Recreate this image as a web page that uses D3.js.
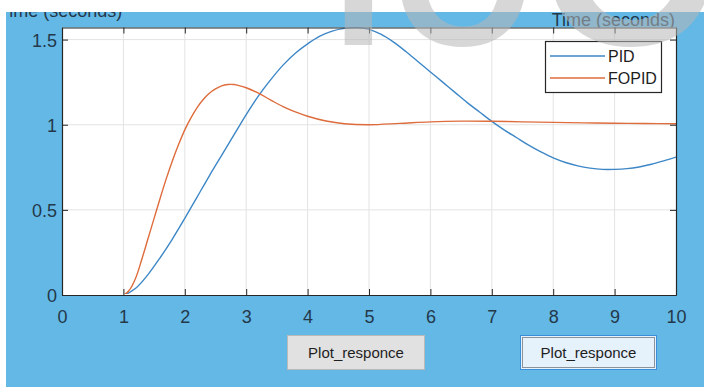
<!DOCTYPE html>
<html>
<head>
<meta charset="utf-8">
<script src="https://cdn.jsdelivr.net/npm/d3@7"></script>
<style>
  html, body { margin: 0; padding: 0; background: #fff; }
  svg { display: block; font-family: "Liberation Sans", Arial, sans-serif; }
</style>
</head>
<body>
<svg id="chart" width="704" height="387"></svg>
<script>
// ---- data ----
const xTicks = [0, 1, 2, 3, 4, 5, 6, 7, 8, 9, 10];
const yTicks = [0, 0.5, 1, 1.5];
const yTickLabels = ["0", "0.5", "1", "1.5"];
const seriesNames = ["PID", "FOPID"];
const axisLabel = "Time (seconds)";
const buttonLabels = ["Plot_responce", "Plot_responce"];
const watermarkLetters = ["I", "O", "C"];

const pidTime = [0, 1, 1.2, 1.4, 1.6, 1.8, 2.0, 2.2, 2.4, 2.6, 2.8, 3.0, 3.2, 3.4, 3.6, 3.8, 4.0, 4.2, 4.4, 4.6, 4.8, 5.0, 5.2, 5.4, 5.6, 5.8, 6.0, 6.2, 6.4, 6.6, 6.8, 7.0, 7.2, 7.4, 7.6, 7.8, 8.0, 8.2, 8.4, 8.6, 8.8, 9.0, 9.2, 9.4, 9.6, 9.8, 10];
const pidValues = [0, 0, 0.04, 0.12, 0.22, 0.33, 0.45, 0.575, 0.70, 0.82, 0.94, 1.06, 1.17, 1.265, 1.35, 1.42, 1.475, 1.52, 1.55, 1.566, 1.57, 1.56, 1.53, 1.485, 1.43, 1.37, 1.31, 1.25, 1.19, 1.13, 1.075, 1.02, 0.97, 0.925, 0.88, 0.84, 0.805, 0.778, 0.758, 0.745, 0.738, 0.738, 0.742, 0.752, 0.768, 0.788, 0.81];

const fopidTime = [0, 1, 1.1, 1.2, 1.3, 1.4, 1.5, 1.6, 1.7, 1.8, 1.9, 2.0, 2.1, 2.2, 2.3, 2.4, 2.5, 2.6, 2.7, 2.8, 2.9, 3.0, 3.2, 3.4, 3.6, 3.8, 4.0, 4.3, 4.6, 5.0, 5.5, 6.0, 6.5, 7.0, 7.5, 8.0, 8.5, 9.0, 9.5, 10];
const fopidValues = [0, 0, 0.03, 0.1, 0.21, 0.33, 0.45, 0.57, 0.685, 0.79, 0.885, 0.97, 1.04, 1.10, 1.148, 1.185, 1.21, 1.228, 1.236, 1.236, 1.228, 1.217, 1.185, 1.145, 1.106, 1.075, 1.05, 1.022, 1.006, 1.0, 1.008, 1.017, 1.021, 1.02, 1.017, 1.014, 1.011, 1.009, 1.007, 1.006];

// ---- styles ----
const BG_BLUE = "#63b8e6";
const AXIS = "#262626";
const TEXT = "#24384a";
const GRID = "#e3e3e3";
const COLORS = ["#3d87c7", "#de6c3c"];

const svg = d3.select("#chart");
const W = 704, H = 387;

svg.append("rect").attr("x", 0).attr("y", 0).attr("width", W).attr("height", H).attr("fill", "#fff");
svg.append("rect").attr("x", 6).attr("y", 12).attr("width", W - 6).attr("height", H - 12).attr("fill", BG_BLUE);

const defs = svg.append("defs");
defs.append("clipPath").attr("id", "bgclip")
  .append("rect").attr("x", 6).attr("y", 12).attr("width", W - 6).attr("height", H - 12);

// partially hidden label of an upper axes
svg.append("text").attr("clip-path", "url(#bgclip)")
  .attr("x", -1).attr("y", 16.5).attr("font-size", 18).attr("fill", TEXT)
  .text(axisLabel);

const plot = { left: 62, right: 676, top: 27.5, bottom: 295 };
const x = d3.scaleLinear().domain([0, 10]).range([plot.left, plot.right]);
const y = d3.scaleLinear().domain([0, 1.571]).range([plot.bottom, plot.top]);

// top-right axis label
svg.append("text").attr("x", plot.right - 1).attr("y", 26).attr("text-anchor", "end")
  .attr("font-size", 18).attr("fill", TEXT).text(axisLabel);

// plot area
svg.append("rect").attr("x", plot.left).attr("y", plot.top)
  .attr("width", plot.right - plot.left).attr("height", plot.bottom - plot.top).attr("fill", "#fff");

// grid
const g = svg.append("g");
g.selectAll("line.gx").data(xTicks.slice(1, -1)).enter().append("line")
  .attr("x1", d => x(d)).attr("x2", d => x(d)).attr("y1", plot.top).attr("y2", plot.bottom)
  .attr("stroke", GRID).attr("stroke-width", 1);
g.selectAll("line.gy").data(yTicks.slice(1)).enter().append("line")
  .attr("y1", d => y(d)).attr("y2", d => y(d)).attr("x1", plot.left).attr("x2", plot.right)
  .attr("stroke", GRID).attr("stroke-width", 1);

// lines
const clip = defs.append("clipPath").attr("id", "plotclip");
clip.append("rect").attr("x", plot.left).attr("y", plot.top - 2)
  .attr("width", plot.right - plot.left).attr("height", plot.bottom - plot.top + 1);

const line = d3.line().x(d => x(d[0])).y(d => y(d[1])).curve(d3.curveCatmullRom.alpha(0.5));
const series = [
  d3.zip(pidTime, pidValues),
  d3.zip(fopidTime, fopidValues)
];
series.forEach((s, i) => {
  svg.append("path").datum(s).attr("clip-path", "url(#plotclip)")
    .attr("d", line).attr("fill", "none").attr("stroke", COLORS[i]).attr("stroke-width", 1.4);
});

// axes (MATLAB-style, ticks inward, box)
const tickLen = 6;
const axB = svg.append("g").attr("transform", `translate(0,${plot.bottom})`)
  .call(d3.axisBottom(x).tickValues(xTicks).tickSizeInner(-tickLen).tickSizeOuter(0).tickPadding(15).tickFormat(d3.format("d")));
const axT = svg.append("g").attr("transform", `translate(0,${plot.top})`)
  .call(d3.axisTop(x).tickValues(xTicks).tickSizeInner(-tickLen).tickSizeOuter(0).tickFormat(""));
const axL = svg.append("g").attr("transform", `translate(${plot.left},0)`)
  .call(d3.axisLeft(y).tickValues(yTicks).tickSizeInner(-tickLen).tickSizeOuter(0).tickPadding(5).tickFormat((d, i) => yTickLabels[i]));
const axR = svg.append("g").attr("transform", `translate(${plot.right},0)`)
  .call(d3.axisRight(y).tickValues(yTicks).tickSizeInner(-tickLen).tickSizeOuter(0).tickFormat(""));
[axB, axT, axL, axR].forEach(a => {
  a.select(".domain").attr("stroke", AXIS).attr("stroke-width", 1.2);
  a.selectAll(".tick line").attr("stroke", AXIS).attr("stroke-width", 1);
  a.selectAll("text").attr("font-size", 18).attr("fill", TEXT)
    .attr("font-family", "Liberation Sans, Arial, sans-serif");
});
axL.selectAll(".tick text").attr("dy", "0.36em");

// legend
const lg = svg.append("g");
lg.append("rect").attr("x", 545.5).attr("y", 41.5).attr("width", 116).attr("height", 51)
  .attr("fill", "#fff").attr("stroke", AXIS).attr("stroke-width", 1.2);
seriesNames.forEach((name, i) => {
  const ly = 56 + i * 22;
  lg.append("line").attr("x1", 550).attr("x2", 605).attr("y1", ly).attr("y2", ly)
    .attr("stroke", COLORS[i]).attr("stroke-width", 1.4);
  lg.append("text").attr("x", 608).attr("y", ly + 6).attr("font-size", 16).attr("fill", "#1e1e1e").text(name);
});

// buttons
const btns = [
  { x: 287, y: 335, w: 137, h: 34, fill: "#e1e1e1", stroke: "#b9b9b9", focus: false },
  { x: 520, y: 335, w: 136, h: 34, fill: "#e5f1fb", stroke: "#3a8fd9", focus: true }
];
btns.forEach((b, i) => {
  svg.append("rect").attr("x", b.x + 0.5).attr("y", b.y + 0.5).attr("width", b.w).attr("height", b.h)
    .attr("fill", b.fill).attr("stroke", b.stroke).attr("stroke-width", 1);
  if (b.focus) {
    svg.append("rect").attr("x", b.x + 2.5).attr("y", b.y + 2.5).attr("width", b.w - 4).attr("height", b.h - 4)
      .attr("fill", "none").attr("stroke", "#333").attr("stroke-width", 1).attr("stroke-dasharray", "1,1");
  }
  svg.append("text").attr("x", b.x + b.w / 2 + 0.5).attr("y", b.y + 23).attr("text-anchor", "middle")
    .attr("font-size", 15).attr("fill", "#1e1e1e").text(buttonLabels[i]);
});

// watermark
const wm = svg.append("g").attr("fill", "rgb(182,182,182)").attr("fill-opacity", 0.55)
  .attr("font-weight", "bold").attr("font-family", "Liberation Sans, Arial, sans-serif");
wm.append("text").attr("x", 332).attr("y", 45).attr("font-size", 190).text(watermarkLetters[0]);
wm.append("text").attr("x", 463).attr("y", 45).attr("text-anchor", "middle").attr("font-size", 180).text(watermarkLetters[1]);
wm.append("text").attr("x", 626).attr("y", 45).attr("text-anchor", "middle").attr("font-size", 240).text(watermarkLetters[2]);
</script>
</body>
</html>
